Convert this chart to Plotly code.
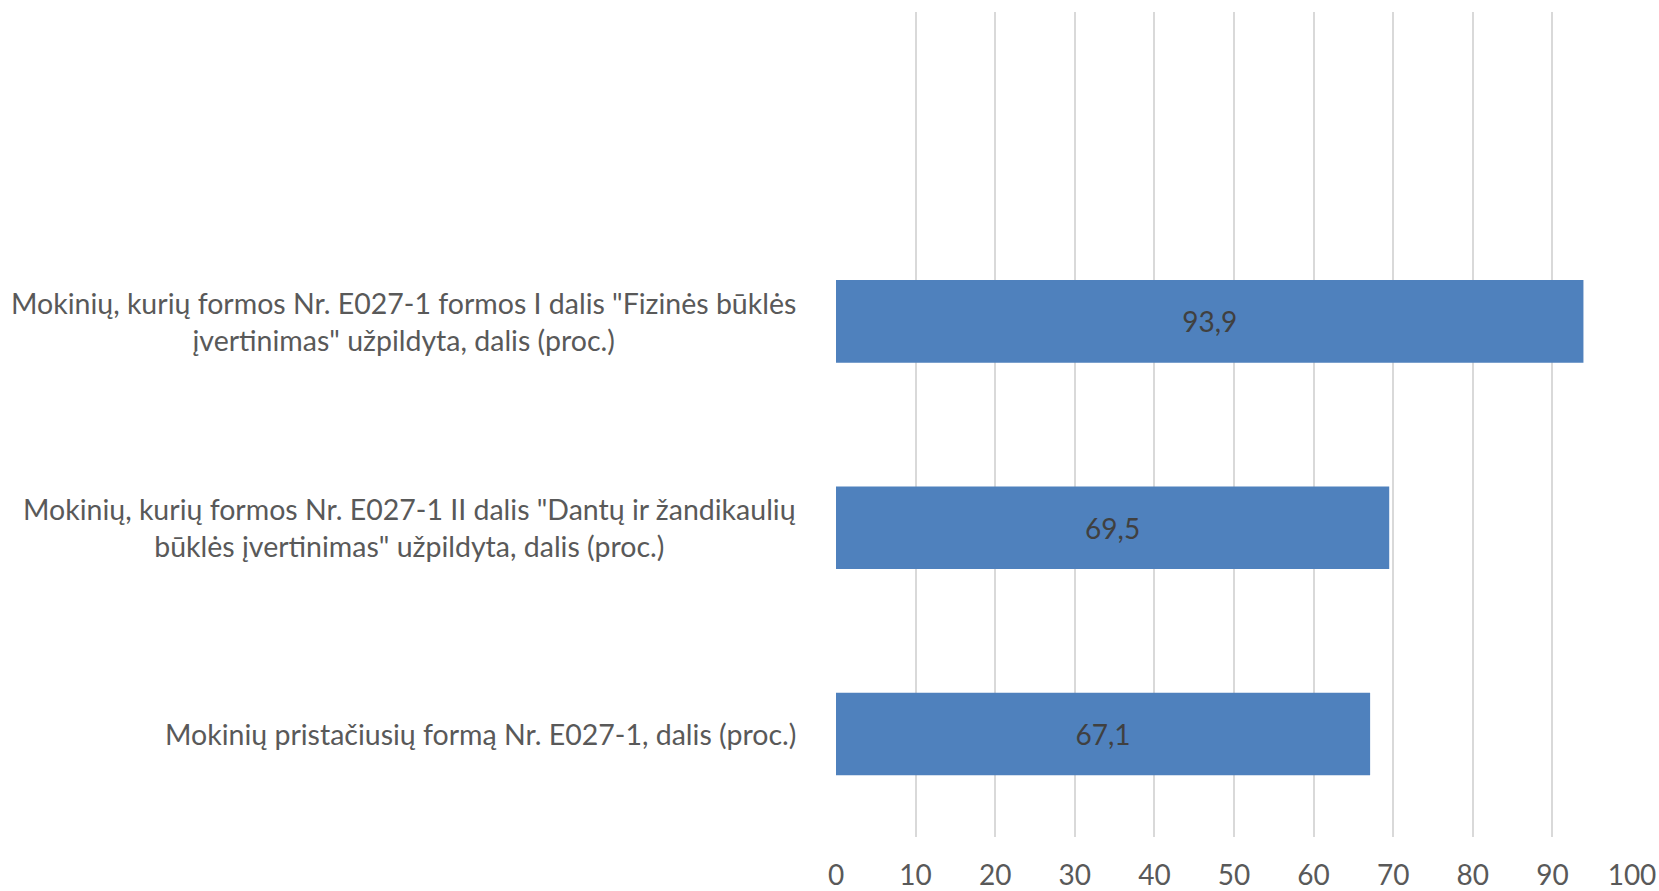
import plotly.graph_objects as go

categories = [
    'Mokinių pristačiusių formą Nr. E027-1, dalis (proc.)',
    'Mokinių, kurių formos Nr. E027-1 II dalis "Dantų ir žandikaulių<br>būklės įvertinimas" užpildyta, dalis (proc.)',
    'Mokinių, kurių formos Nr. E027-1 formos I dalis "Fizinės būklės<br>įvertinimas" užpildyta, dalis (proc.)',
]
values = [67.1, 69.5, 93.9]
x_ticks = [0, 10, 20, 30, 40, 50, 60, 70, 80, 90, 100]

FONT = "Lato"
fig = go.Figure()
fig.add_trace(go.Bar(
    y=list(range(len(categories))),
    x=values,
    orientation="h",
    marker=dict(color="#4F81BD", line=dict(width=0)),
    texttemplate="%{x:.1f}",
    textposition="inside",
    insidetextanchor="middle",
    textfont=dict(family=FONT, size=28, color="#404040"),
    hoverinfo="skip",
))

annotations = []
for i, c in enumerate(categories):
    annotations.append(dict(
        x=0, xref="paper", xanchor="right", xshift=-38,
        y=i, yref="y", yanchor="middle",
        text=c, showarrow=False, align="center",
        font=dict(family=FONT, size=28.5, color="#595959"),
    ))

fig.update_layout(
    template="none",
    width=1659, height=891,
    margin=dict(l=836, r=27, t=12, b=54, autoexpand=False),
    paper_bgcolor="white", plot_bgcolor="white",
    separators=",.",
    bargap=0.6,
    showlegend=False,
    annotations=annotations,
    xaxis=dict(
        range=[0, 100], tickvals=x_ticks, showgrid=True, automargin=False,
        gridcolor="#d9d9d9", gridwidth=2, zeroline=False, showline=False,
        tickfont=dict(family=FONT, size=28, color="#595959"),
        ticks="", ticklabelstandoff=19, ticklabeloverflow="allow",
    ),
    yaxis=dict(
        range=[-0.5, 3.5], showticklabels=False, showgrid=False, automargin=False,
        zeroline=False, showline=False, ticks="",
    ),
)

fig.write_html(
    "out.html",
    config={"displayModeBar": False},
    post_script="document.body.style.margin='0';"
                "document.body.style.overflow='hidden';"
                "document.documentElement.style.overflow='hidden';",
)
